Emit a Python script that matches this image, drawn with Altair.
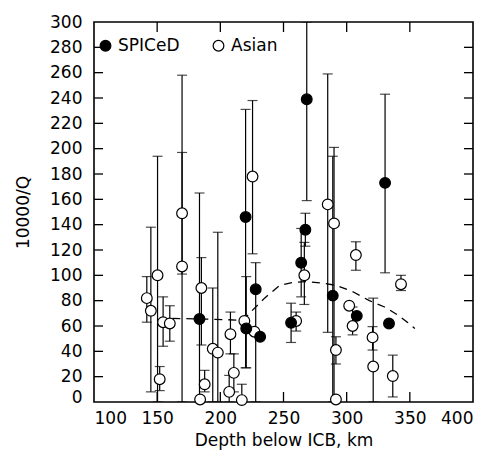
import altair as alt
import pandas as pd
import numpy as np

# SPICeD (filled circles)
sp_x = [183.5, 220, 220.5, 228, 231.5, 256, 264, 267.3, 268.4, 289, 308, 330.4, 333.5]
sp_y = [65.5, 146, 58, 89, 51.5, 62.6, 110, 136, 239, 84, 68, 173, 62]
sp_lo = [0, 27, 27, 0, None, 47, 83, 123, 159, 0, None, 102, None]
sp_hi = [165, 231, 99, 110, None, 78, 137, 149, 300, 194, None, 243, None]

# Asian (open circles)
as_x = [141.8, 145, 150.3, 152, 154.7, 160, 169.7, 169.7, 185, 187.6, 184, 194, 198, 207, 208,
        210.7, 217, 219, 225.5, 227, 260, 266.5, 285, 290, 291.5, 291.5, 302, 304.7, 307.3,
        320.5, 321, 336.5, 343]
as_y = [82, 72, 100, 18, 63, 62, 149, 107, 90, 14, 2, 42, 39, 8, 53.5,
        23, 1.5, 64, 178, 55.5, 64, 100, 156, 141, 41, 2, 76, 60, 116,
        51, 28, 20.5, 93]
as_lo = [63, 8, 0, 9, 44, 48, 0, 101, 45, 8, None, 0, 0, 0, 38,
         8, 0, None, 117, None, 56, 77, 55, 0, 30, None, None, 53, 104,
         41, 0, 4, 88]
as_hi = [99, 138, 194, 28, 83, 76, 258, 197, 114, 25, None, 90, 134, 21, 71,
         38, 14, None, 238, None, 71, 126, 259, 201, 51.5, None, None, 75, 126.5,
         59.5, 82, 37, 100]

# dashed model curve
dash_x = [162, 185, 205, 218, 225, 235, 247, 258, 268, 280, 292, 305, 318, 330, 340, 348, 354]
dash_y = [66, 65.5, 65, 64.5, 72, 82, 92, 94.5, 95, 94, 92, 87, 80, 75, 69, 63, 58]

x_ticks = [100, 150, 200, 250, 300, 350, 400]
y_ticks = list(range(0, 301, 20))

FONT = "DejaVu Sans"
W, H = 379, 380

df = pd.concat([
    pd.DataFrame({"x": sp_x, "y": sp_y, "lo": sp_lo, "hi": sp_hi, "series": "SPICeD"}),
    pd.DataFrame({"x": as_x, "y": as_y, "lo": as_lo, "hi": as_hi, "series": "Asian"}),
], ignore_index=True)
df["lo"] = pd.to_numeric(df["lo"])
df["hi"] = pd.to_numeric(df["hi"])
bars = df.dropna(subset=["lo", "hi"])
dash = pd.DataFrame({"x": dash_x, "y": dash_y})

xs = alt.Scale(domain=[100, 400], nice=False, zero=False)
ys = alt.Scale(domain=[0, 300], nice=False, zero=False)

xaxis = alt.Axis(values=x_ticks, title="Depth below ICB, km", ticks=False, domain=False,
                 grid=False, labelPadding=8, titlePadding=6, format="d", labelOverlap=False)
yaxis = alt.Axis(values=y_ticks, title="10000/Q", ticks=False, domain=False, grid=False,
                 labelPadding=12, titlePadding=17, format="d", labelOverlap=False,
                 labelOffset={"condition": {"test": "datum.value === 0", "value": -5}, "value": 0})

X = lambda f: alt.X(f, type="quantitative", scale=xs, axis=xaxis)
Y = lambda f: alt.Y(f, type="quantitative", scale=ys, axis=yaxis)

line = alt.Chart(dash).mark_line(color="black", strokeWidth=1.3, strokeDash=[8, 6]).encode(
    x=X("x"), y=Y("y"))

rules = alt.Chart(bars).mark_rule(color="black", strokeWidth=1.2, clip=True).encode(
    x=X("x"), y=Y("lo"), y2="hi")
cap_lo = alt.Chart(bars).mark_tick(color="black", orient="horizontal", size=10, thickness=1.2,
                                   clip=True).encode(x=X("x"), y=Y("lo"))
cap_hi = alt.Chart(bars).mark_tick(color="black", orient="horizontal", size=10, thickness=1.2,
                                   clip=True).encode(x=X("x"), y=Y("hi"))

points = alt.Chart(df).mark_point(filled=True, size=115, stroke="black", strokeWidth=1.2,
                                  opacity=1).encode(
    x=X("x"), y=Y("y"),
    fill=alt.Fill("series:N",
                  scale=alt.Scale(domain=["SPICeD", "Asian"], range=["black", "white"]),
                  legend=alt.Legend(title=None, orient="none", legendX=3, legendY=15,
                                    direction="horizontal", symbolType="circle",
                                    symbolSize=115, symbolStrokeColor="black",
                                    symbolStrokeWidth=1.2, labelFont=FONT, labelFontSize=17,
                                    labelColor="black", labelOffset=4, columnPadding=30,
                                    padding=0)),
    order=alt.Order("series:N", sort="ascending"),
)

xt = pd.DataFrame({"v": x_ticks[1:-1]})
yt = pd.DataFrame({"v": y_ticks[1:-1]})
tick_b = alt.Chart(xt).mark_rule(color="black", strokeWidth=1.3).encode(
    x=X("v"), y=alt.value(H - 10), y2=alt.value(H))
tick_t = alt.Chart(xt).mark_rule(color="black", strokeWidth=1.3).encode(
    x=X("v"), y=alt.value(0), y2=alt.value(10))
tick_l = alt.Chart(yt).mark_rule(color="black", strokeWidth=1.3).encode(
    y=Y("v"), x=alt.value(0), x2=alt.value(9))
tick_r = alt.Chart(yt).mark_rule(color="black", strokeWidth=1.3).encode(
    y=Y("v"), x=alt.value(W - 9), x2=alt.value(W))

chart = alt.layer(line, rules, cap_lo, cap_hi, points, tick_b, tick_t, tick_l, tick_r).properties(
    width=W, height=H,
    autosize=alt.AutoSizeParams(type="none"),
    padding={"left": 86, "top": 14, "right": 8, "bottom": 57},
    background="white",
).configure_view(stroke="black", strokeWidth=1.6).configure_axis(
    labelFont=FONT, labelFontSize=17, labelColor="black",
    titleFont=FONT, titleFontSize=17, titleColor="black", titleFontWeight="normal",
)

chart.save("out.html", embed_options={"renderer": "svg", "actions": False})
